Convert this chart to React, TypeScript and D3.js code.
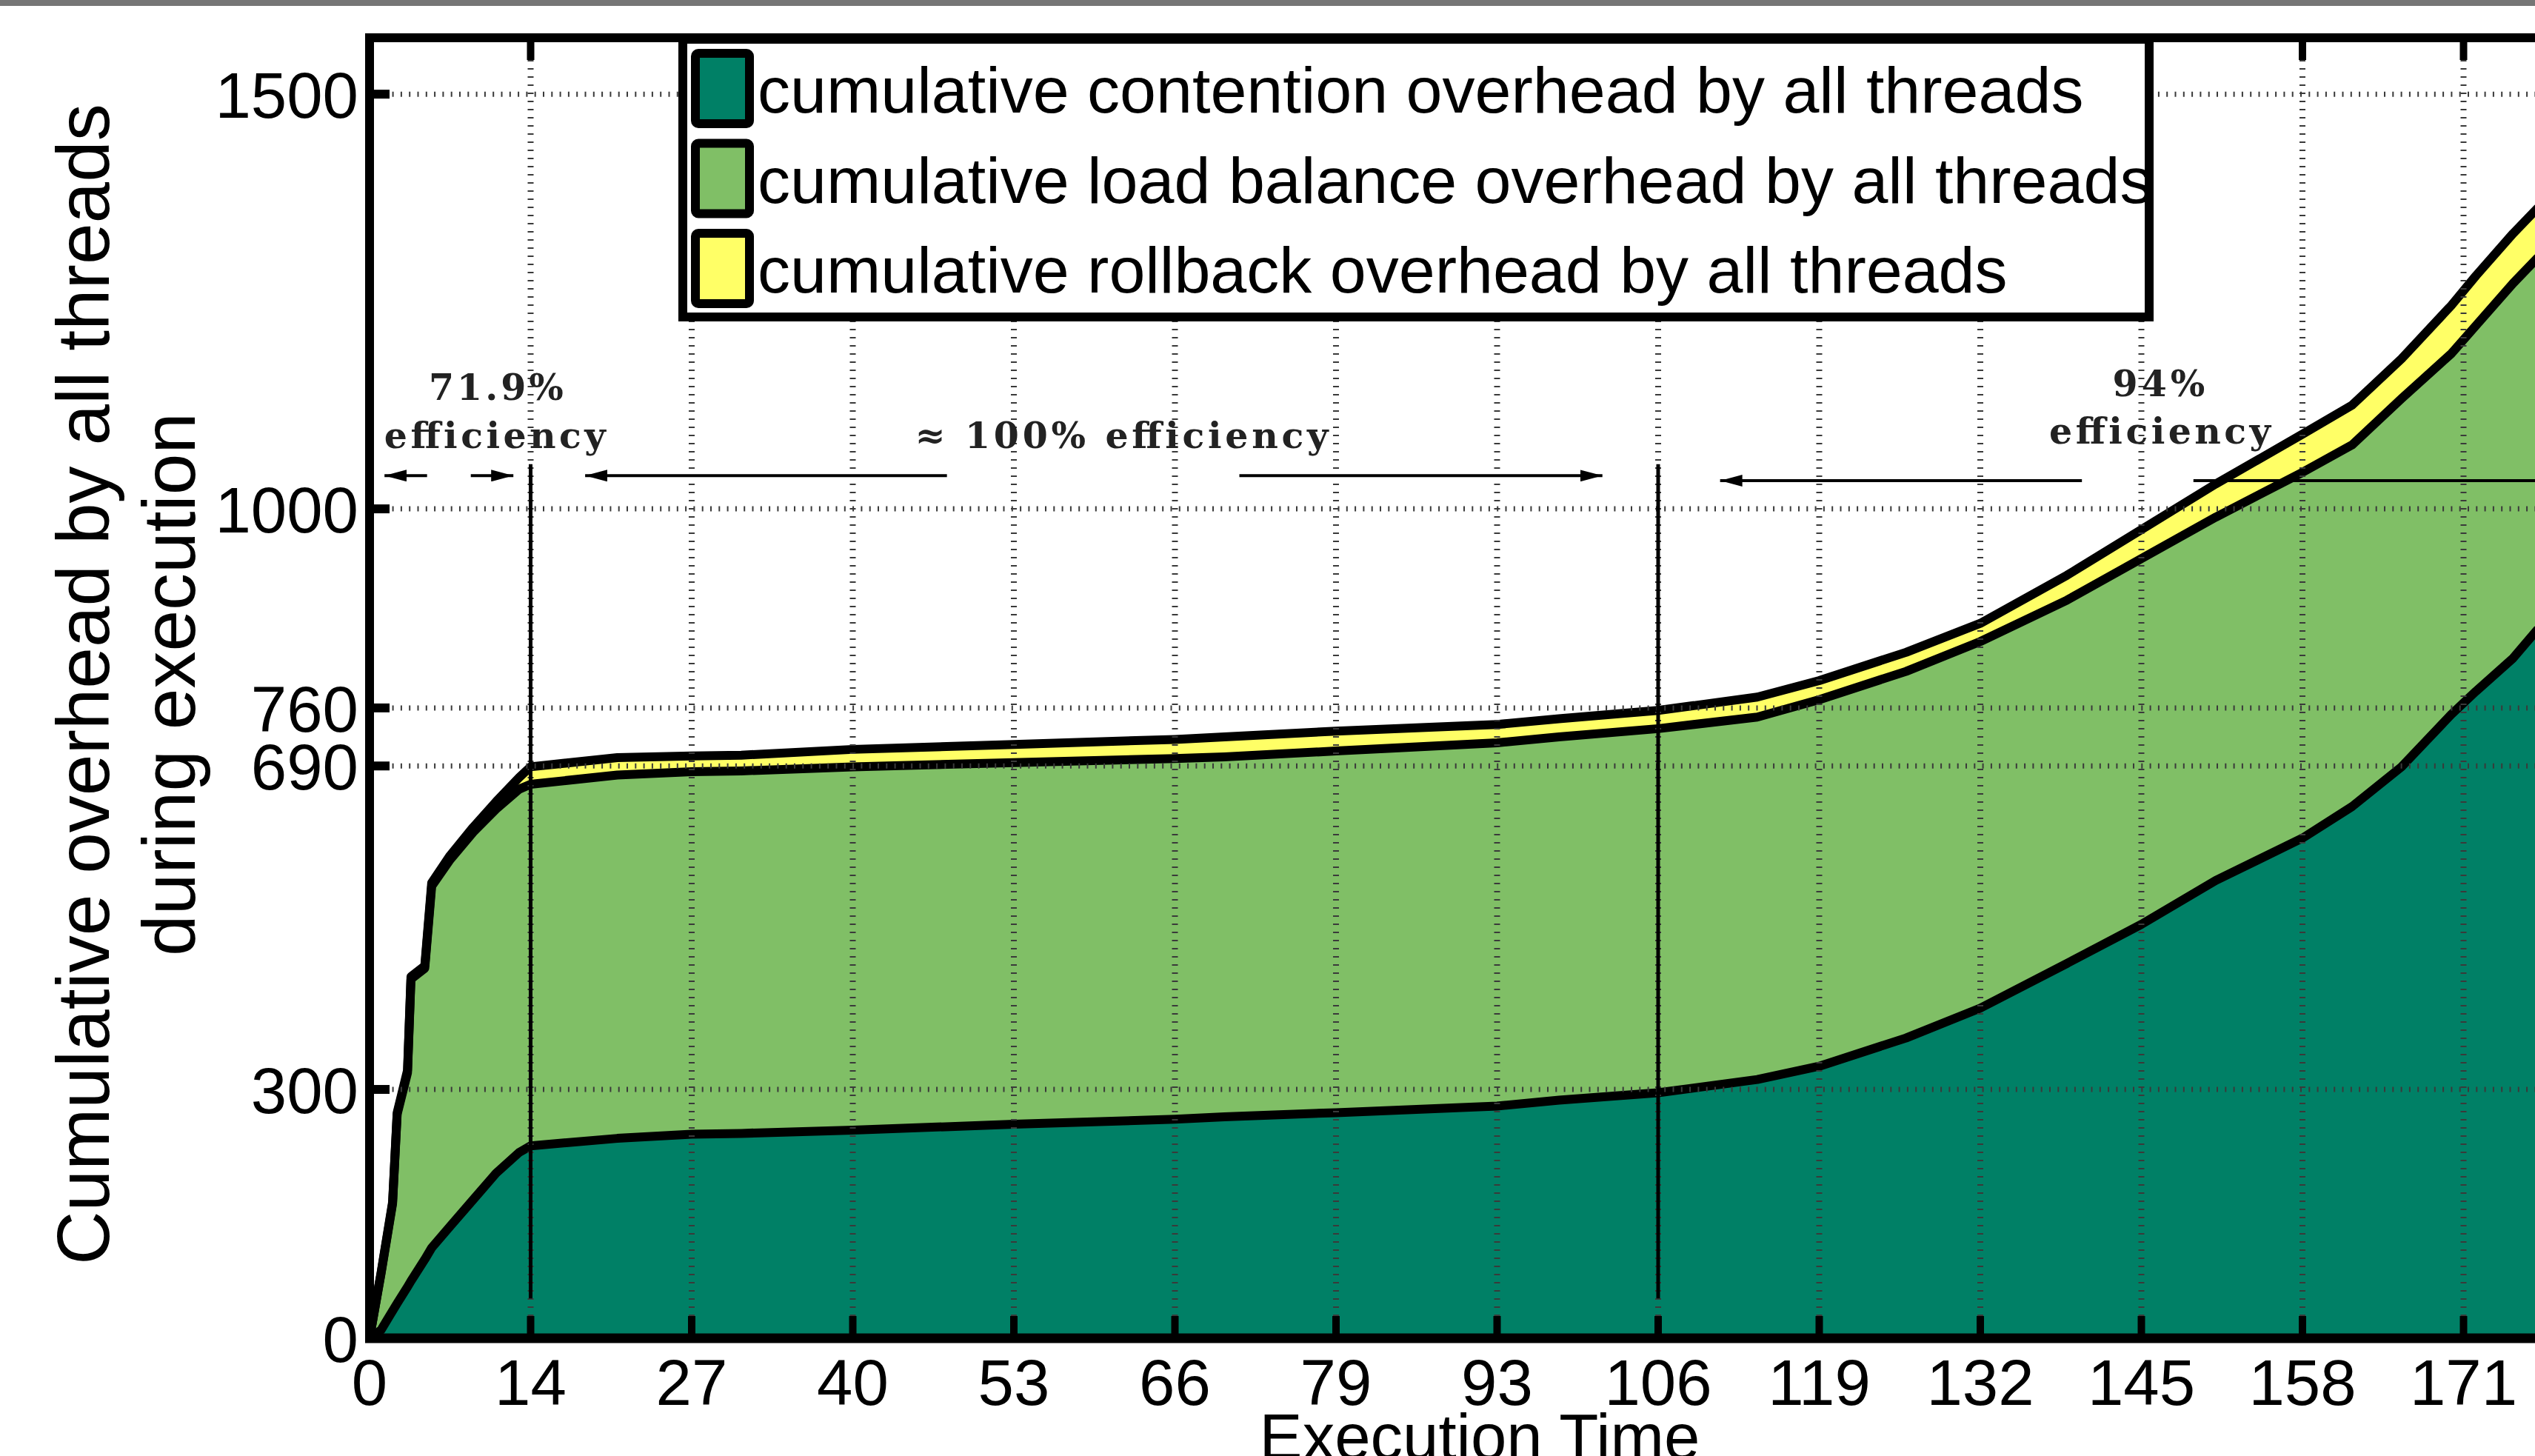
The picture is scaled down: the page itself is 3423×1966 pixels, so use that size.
import * as d3 from 'd3';
import React, { useEffect, useRef } from 'react';

// execution time samples
const execTime = [0, 1, 2, 2.4, 3.3, 3.6, 4.8, 5.4, 7, 9, 11, 13, 14, 21, 27, 31, 40, 53, 66, 70, 79, 93, 98, 106, 114, 119, 126, 132, 139, 145, 151, 158, 162, 166, 170, 172, 175, 177];

// cumulative overhead per category (stacked in this order)
const contention = [0, 10, 33, 42, 62, 69, 95, 109, 135, 167, 199, 224, 232, 241, 246, 247, 251, 258, 264, 267, 272, 280, 287, 296, 312, 328, 362, 398, 452, 499, 552, 603, 641, 689, 752, 780, 820, 855];
const loadBalance = [0, 68, 129, 228, 258, 364, 351, 436, 442, 443, 439, 438, 436, 438, 437, 437, 438, 436, 435, 434, 436, 438, 438, 439, 437, 442, 442, 442, 438, 441, 438, 441, 436, 444, 435, 441, 452, 448];
const rollback = [0, 1, 2, 2, 3, 3, 3, 4, 5, 6, 9, 14, 21, 21, 19, 19, 21, 22, 23, 24, 24, 22, 22, 22, 24, 23, 23, 22, 30, 35, 40, 46, 48, 48, 58, 60, 60, 60];

const xTickValues = [0, 14, 27, 40, 53, 66, 79, 93, 106, 119, 132, 145, 158, 171];
const yTickValues = [0, 300, 690, 760, 1000, 1500];

const seriesKeys = ['contention', 'loadBalance', 'rollback'];
const seriesLabels = [
  'cumulative contention overhead by all threads',
  'cumulative load balance overhead by all threads',
  'cumulative rollback overhead by all threads',
];
const seriesColors = ['#008066', '#80bf66', '#ffff66'];

// efficiency region annotations, in data units
const regionBounds = [14, 106];
const arrows = [
  { from: 5, to: 1.3, y: 1040 },
  { from: 8.8, to: 12.5, y: 1040 },
  { from: 47.6, to: 18.4, y: 1040 },
  { from: 71.2, to: 101.5, y: 1040 },
  { from: 140.2, to: 111, y: 1034 },
  { from: 149.2, to: 186, y: 1034 },
];
const notes = [
  { text: '71.9%', t: 11, v: 1131, len: 182 },
  { text: 'efficiency', t: 10.9, v: 1073, len: 299 },
  { text: '\u2248 100% efficiency', t: 61.7, v: 1073, len: 558 },
  { text: '94%', t: 146.4, v: 1136, len: 125 },
  { text: 'efficiency', t: 146.5, v: 1079, len: 299 },
];

const SANS = '"Liberation Sans", Arial, Helvetica, sans-serif';

function OverheadChart() {
  const svgRef = useRef(null);

  useEffect(() => {
    const W = 3423;
    const H = 1966;
    const left = 499;
    const top = 51;
    const bottom = 1807;
    const step = 217.5;

    const svg = d3.select(svgRef.current).attr('width', W).attr('height', H);
    svg.selectAll('*').remove();

    // ticks are evenly spaced although their labels are not
    const x = d3.scaleLinear()
      .domain(xTickValues)
      .range(xTickValues.map((_, i) => left + i * step));
    const y = d3.scaleLinear().domain([0, 1568]).range([bottom, top]);

    svg.append('rect').attr('width', W).attr('height', H).attr('fill', '#fff');
    svg.append('rect').attr('width', W).attr('height', 8).attr('fill', '#767676');

    const rows = execTime.map((t, i) => ({
      t,
      contention: contention[i],
      loadBalance: loadBalance[i],
      rollback: rollback[i],
    }));
    const layers = d3.stack().keys(seriesKeys)(rows);

    const area = d3.area()
      .x(d => x(d.data.t))
      .y0(d => y(d[0]))
      .y1(d => y(d[1]));
    const edge = d3.line()
      .x(d => x(d.data.t))
      .y(d => y(d[1]));

    svg.append('g')
      .selectAll('path')
      .data(layers)
      .join('path')
      .attr('fill', (_, i) => seriesColors[i])
      .attr('d', area);

    svg.append('g')
      .selectAll('path')
      .data(layers)
      .join('path')
      .attr('fill', 'none')
      .attr('stroke', '#000')
      .attr('stroke-width', 12)
      .attr('stroke-linejoin', 'round')
      .attr('d', edge);

    // dotted grid, drawn over the areas
    const grid = svg.append('g').attr('stroke', '#3a3a3a');
    grid.selectAll('line.h')
      .data(yTickValues.slice(1))
      .join('line')
      .attr('class', 'h')
      .attr('x1', left + 8)
      .attr('x2', W)
      .attr('y1', d => y(d))
      .attr('y2', d => y(d))
      .attr('stroke-width', 7)
      .attr('stroke-dasharray', '2 9.3');
    grid.selectAll('line.v')
      .data(xTickValues.slice(1))
      .join('line')
      .attr('class', 'v')
      .attr('x1', d => x(d))
      .attr('x2', d => x(d))
      .attr('y1', top + 8)
      .attr('y2', bottom - 6)
      .attr('stroke-width', 8)
      .attr('stroke-dasharray', '2 9');

    // efficiency annotations
    const defs = svg.append('defs');
    defs.append('marker')
      .attr('id', 'head')
      .attr('markerUnits', 'userSpaceOnUse')
      .attr('viewBox', '0 -8 30 16')
      .attr('refX', 30)
      .attr('refY', 0)
      .attr('markerWidth', 30)
      .attr('markerHeight', 16)
      .attr('orient', 'auto')
      .append('path')
      .attr('d', 'M0,-8L30,0L0,8Z')
      .attr('fill', '#000');

    svg.append('g')
      .selectAll('line')
      .data(regionBounds)
      .join('line')
      .attr('x1', d => x(d))
      .attr('x2', d => x(d))
      .attr('y1', y(1054))
      .attr('y2', y(48))
      .attr('stroke', '#000')
      .attr('stroke-width', 5);

    svg.append('g')
      .selectAll('line')
      .data(arrows)
      .join('line')
      .attr('x1', d => x(d.from))
      .attr('x2', d => x(d.to))
      .attr('y1', d => y(d.y))
      .attr('y2', d => y(d.y))
      .attr('stroke', '#000')
      .attr('stroke-width', 4)
      .attr('marker-end', 'url(#head)');

    svg.append('g')
      .selectAll('text')
      .data(notes)
      .join('text')
      .attr('x', d => x(d.t))
      .attr('y', d => y(d.v))
      .attr('text-anchor', 'middle')
      .attr('font-family', '"DejaVu Serif", serif')
      .attr('font-weight', 'bold')
      .attr('font-size', 49)
      .attr('fill', '#222')
      .attr('textLength', d => d.len)
      .attr('lengthAdjust', 'spacing')
      .text(d => d.text);

    // axes frame and tick marks
    const axes = svg.append('g').attr('stroke', '#000');
    axes.append('line').attr('x1', left).attr('x2', left).attr('y1', top - 6).attr('y2', bottom + 6).attr('stroke-width', 12);
    axes.append('line').attr('x1', left - 6).attr('x2', W).attr('y1', top).attr('y2', top).attr('stroke-width', 12);
    axes.append('line').attr('x1', left - 6).attr('x2', W).attr('y1', bottom).attr('y2', bottom).attr('stroke-width', 13);

    axes.selectAll('line.yt')
      .data(yTickValues)
      .join('line')
      .attr('class', 'yt')
      .attr('x1', left)
      .attr('x2', left + 27)
      .attr('y1', d => y(d))
      .attr('y2', d => y(d))
      .attr('stroke-width', 12);
    axes.selectAll('line.xb')
      .data(xTickValues)
      .join('line')
      .attr('class', 'xb')
      .attr('x1', d => x(d))
      .attr('x2', d => x(d))
      .attr('y1', bottom)
      .attr('y2', bottom - 30)
      .attr('stroke-width', 10);
    axes.selectAll('line.xt')
      .data(xTickValues)
      .join('line')
      .attr('class', 'xt')
      .attr('x1', d => x(d))
      .attr('x2', d => x(d))
      .attr('y1', top)
      .attr('y2', top + 30)
      .attr('stroke-width', 10);

    // legend
    const legend = svg.append('g');
    legend.append('rect')
      .attr('x', 922)
      .attr('y', 53)
      .attr('width', 1980)
      .attr('height', 375)
      .attr('fill', '#fff')
      .attr('stroke', '#000')
      .attr('stroke-width', 12);
    const entry = legend.selectAll('g')
      .data(seriesLabels)
      .join('g')
      .attr('transform', (_, i) => `translate(0,${i * 121.5})`);
    entry.append('rect')
      .attr('x', 939)
      .attr('y', 72)
      .attr('width', 73)
      .attr('height', 95)
      .attr('rx', 4)
      .attr('fill', (_, i) => seriesColors[i])
      .attr('stroke', '#000')
      .attr('stroke-width', 12);
    entry.append('text')
      .attr('x', 1023)
      .attr('y', 152)
      .attr('font-family', SANS)
      .attr('font-size', 88)
      .attr('fill', '#000')
      .text(d => d);

    // tick labels
    svg.append('g')
      .selectAll('text')
      .data(yTickValues)
      .join('text')
      .attr('x', 484)
      .attr('y', d => y(d) + 32)
      .attr('text-anchor', 'end')
      .attr('font-family', SANS)
      .attr('font-size', 87)
      .text(d => d);
    svg.append('g')
      .selectAll('text')
      .data(xTickValues)
      .join('text')
      .attr('x', d => x(d))
      .attr('y', 1897)
      .attr('text-anchor', 'middle')
      .attr('font-family', SANS)
      .attr('font-size', 87)
      .text(d => d);

    // axis titles; after rotate(-90) the local y offset becomes the screen x
    const yTitle = svg.append('text')
      .attr('transform', 'translate(0,924) rotate(-90)')
      .attr('text-anchor', 'middle')
      .attr('font-family', SANS)
      .attr('font-size', 100);
    yTitle.append('tspan').attr('x', 0).attr('y', 147).text('Cumulative overhead by all threads');
    yTitle.append('tspan').attr('x', 0).attr('y', 263).text('during execution');

    svg.append('text')
      .attr('x', 1998)
      .attr('y', 1970)
      .attr('text-anchor', 'middle')
      .attr('font-family', SANS)
      .attr('font-size', 87)
      .text('Execution Time');
  }, []);

  return <svg ref={svgRef} style={{ position: 'absolute', left: 0, top: 0 }} />;
}

export default function App() {
  return <OverheadChart />;
}
